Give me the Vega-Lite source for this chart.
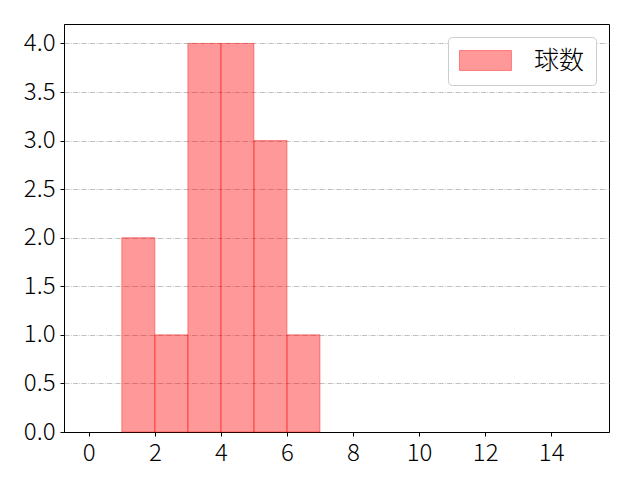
{
  "$schema": "https://vega.github.io/schema/vega-lite/v6.json",
  "width": 545,
  "height": 408,
  "autosize": {"type": "none"},
  "padding": {"left": 64, "top": 24, "right": 31, "bottom": 48},
  "background": "white",
  "data": {
    "values": [
      {"start": 1, "end": 2, "count": 2},
      {"start": 2, "end": 3, "count": 1},
      {"start": 3, "end": 4, "count": 4},
      {"start": 4, "end": 5, "count": 4},
      {"start": 5, "end": 6, "count": 3},
      {"start": 6, "end": 7, "count": 1}
    ]
  },
  "mark": {
    "type": "bar",
    "stroke": "red",
    "strokeWidth": 1,
    "fillOpacity": 0.4,
    "strokeOpacity": 0.4
  },
  "encoding": {
    "x": {
      "field": "start",
      "type": "quantitative",
      "scale": {"domain": [-0.75, 15.75], "nice": false, "zero": false},
      "axis": {"values": [0, 2, 4, 6, 8, 10, 12, 14], "grid": false, "title": null}
    },
    "x2": {"field": "end"},
    "y": {
      "field": "count",
      "type": "quantitative",
      "scale": {"domain": [0, 4.2], "nice": false},
      "axis": {
        "values": [0, 0.5, 1, 1.5, 2, 2.5, 3, 3.5, 4],
        "format": ".1f",
        "grid": true,
        "gridColor": "#b0b0b0",
        "gridWidth": 0.8,
        "gridDash": [5.1, 1.3, 0.8, 1.3],
        "title": null
      }
    },
    "y2": {"datum": 0},
    "fill": {
      "datum": "球数",
      "type": "nominal",
      "scale": {"range": ["red"]},
      "legend": {
        "title": null,
        "orient": "top-right",
        "offset": 13,
        "padding": 11,
        "strokeColor": "#cccccc",
        "cornerRadius": 4,
        "fillColor": "white",
        "symbolType": "M-1,-0.83L3.33,-0.83L3.33,0.83L-1,0.83Z",
        "symbolSize": 576,
        "symbolStrokeColor": "red",
        "symbolStrokeWidth": 1,
        "labelFontSize": 25,
        "labelFontWeight": 300,
        "labelOffset": 50,
        "labelColor": "black",
        "encode": {
          "symbols": {
            "update": {
              "opacity": {"value": 1},
              "fillOpacity": {"value": 0.4},
              "strokeOpacity": {"value": 0.4}
            }
          }
        }
      }
    }
  },
  "config": {
    "font": "Noto Sans CJK JP",
    "view": {"stroke": "black", "strokeWidth": 1},
    "axis": {
      "domainColor": "black",
      "tickColor": "black",
      "tickSize": 4,
      "labelFontSize": 24,
      "labelFontWeight": 300,
      "labelColor": "black",
      "labelPadding": 5
    }
  }
}
